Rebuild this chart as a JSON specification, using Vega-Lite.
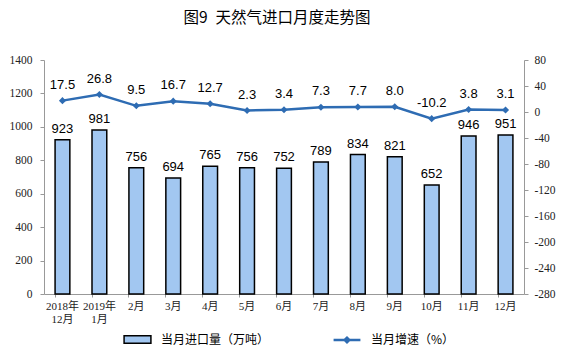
{
  "$schema": "https://vega.github.io/schema/vega-lite/v6.json",
  "width": 480,
  "height": 234,
  "autosize": {"type": "none"},
  "padding": {"left": 44, "top": 60, "right": 40, "bottom": 63},
  "background": "white",
  "title": {"text": "图9\u2002天然气进口月度走势图", "font": "Noto Sans CJK SC", "fontSize": 15.5, "fontWeight": "normal", "color": "#000", "offset": 28, "anchor": "middle", "dx": -7},
  "config": {"view": {"stroke": null}},
  "data": {"values": [
    {"month": "2018年12月", "imports": 923, "growth": 17.5},
    {"month": "2019年1月", "imports": 981, "growth": 26.8},
    {"month": "2月", "imports": 756, "growth": 9.5},
    {"month": "3月", "imports": 694, "growth": 16.7},
    {"month": "4月", "imports": 765, "growth": 12.7},
    {"month": "5月", "imports": 756, "growth": 2.3},
    {"month": "6月", "imports": 752, "growth": 3.4},
    {"month": "7月", "imports": 789, "growth": 7.3},
    {"month": "8月", "imports": 834, "growth": 7.7},
    {"month": "9月", "imports": 821, "growth": 8.0},
    {"month": "10月", "imports": 652, "growth": -10.2},
    {"month": "11月", "imports": 946, "growth": 3.8},
    {"month": "12月", "imports": 951, "growth": 3.1}
  ]},
  "encoding": {
    "x": {
      "field": "month", "type": "ordinal", "sort": null,
      "scale": {"paddingInner": 0.6, "paddingOuter": 0.3},
      "axis": {
        "title": null, "labelAngle": 0, "bandPosition": 0, "tickSize": 3,
        "tickColor": "#999", "domainColor": "#999",
        "labelFont": "Liberation Serif, Noto Sans CJK SC", "labelFontSize": 11, "labelColor": "#222",
        "labelPadding": 3,
        "labelExpr": "test(/年/, datum.value) ? [slice(datum.value, 0, 5), slice(datum.value, 5)] : datum.value"
      }
    }
  },
  "layer": [
    {
      "encoding": {
        "y": {
          "field": "imports", "type": "quantitative",
          "scale": {"domain": [0, 1400]},
          "axis": {"title": null, "values": [0, 200, 400, 600, 800, 1000, 1200, 1400], "grid": false,
            "tickSize": 4, "tickColor": "#999", "domainColor": "#999", "labelPadding": 8,
            "labelExpr": "'' + datum.value",
            "labelFont": "Liberation Serif", "labelFontSize": 11.5, "labelColor": "#222"}
        }
      },
      "layer": [
        {
          "mark": {"type": "bar", "stroke": "#000", "strokeWidth": 1.5},
          "encoding": {
            "fill": {"datum": "当月进口量（万吨）", "type": "nominal",
              "scale": {"range": ["#a2c7f1"]},
              "legend": {"title": null, "orient": "none", "legendX": 86, "legendY": 272, "padding": 0,
                "symbolType": "M-2,-0.55H2V0.55H-2Z", "symbolSize": 180, "symbolStrokeColor": "#000", "symbolStrokeWidth": 1.5,
                "labelFont": "Noto Sans CJK SC", "labelFontSize": 12, "labelColor": "#000", "labelOffset": 16}}
          }
        },
        {
          "mark": {"type": "text", "baseline": "bottom", "dy": -4, "font": "Liberation Sans", "fontSize": 13, "color": "#000"},
          "encoding": {"text": {"field": "imports", "type": "quantitative"}}
        }
      ]
    },
    {
      "encoding": {
        "y": {
          "field": "growth", "type": "quantitative",
          "scale": {"domain": [-280, 80]},
          "axis": {"orient": "right", "title": null, "values": [-280, -240, -200, -160, -120, -80, -40, 0, 40, 80], "grid": false,
            "tickSize": 4, "tickColor": "#999", "domainColor": "#999", "labelPadding": 6,
            "labelExpr": "'' + datum.value",
            "labelFont": "Liberation Serif", "labelFontSize": 11.5, "labelColor": "#222"}
        }
      },
      "layer": [
        {
          "mark": {"type": "line", "strokeWidth": 2.5},
          "encoding": {
            "stroke": {"datum": "当月增速（%）", "type": "nominal",
              "scale": {"range": ["#2e6cb3"]},
              "legend": {"title": null, "orient": "none", "legendX": 295, "legendY": 272, "padding": 0,
                "symbolType": "M-2,0H2M-0.35,0L0,-0.35L0.35,0L0,0.35Z", "symbolSize": 180, "symbolStrokeWidth": 2.5,
                "symbolFillColor": "#2e6cb3",
                "labelFont": "Noto Sans CJK SC", "labelFontSize": 12, "labelColor": "#000", "labelOffset": 16}}
          }
        },
        {
          "mark": {"type": "point", "shape": "diamond", "filled": true, "size": 50, "color": "#2e6cb3", "opacity": 1}
        },
        {
          "mark": {"type": "text", "baseline": "bottom", "dy": -9, "font": "Liberation Sans", "fontSize": 13, "color": "#000",
            "text": {"expr": "replace(format(datum.growth, '.1f'), '\u2212', '-')"}}
        }
      ]
    }
  ],
  "resolve": {"scale": {"y": "independent"}}
}
